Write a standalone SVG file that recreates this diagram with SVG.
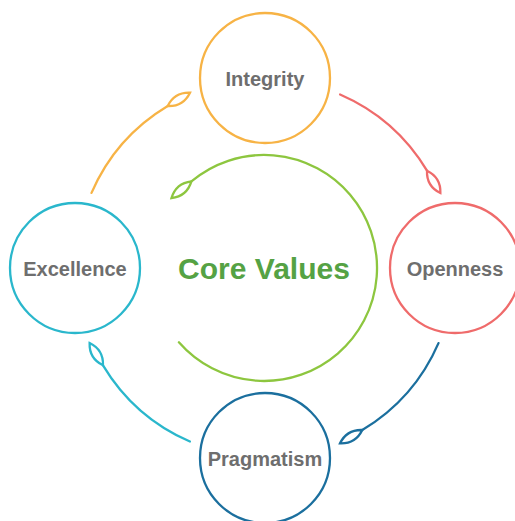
<svg xmlns="http://www.w3.org/2000/svg" width="515" height="521" viewBox="0 0 515 521">
  <style>
    .node { fill: #ffffff; stroke-width: 2.3; }
    .label { font-family: "Liberation Sans", Arial, sans-serif; font-weight: bold; font-size: 20px; fill: #6e6e6e; text-anchor: middle; }
    .title { font-family: "Liberation Sans", Arial, sans-serif; font-weight: bold; font-size: 30px; fill: #55a244; text-anchor: middle; }
    .conn { fill: none; stroke-width: 2.3; stroke-linecap: round; }
    .leaf { fill: none; stroke-width: 2.3; }
  </style>
  <defs>
    <marker id="leaf-orange" markerUnits="userSpaceOnUse" orient="auto" refX="0" refY="0" markerWidth="40" markerHeight="40" viewBox="-5 -20 40 40" overflow="visible">
      <path class="leaf" stroke="#f7b345" d="M0,0 Q13,-8.5 26,0 Q13,8.5 0,0Z"/>
    </marker>
    <marker id="leaf-red" markerUnits="userSpaceOnUse" orient="auto" refX="0" refY="0" markerWidth="40" markerHeight="40" viewBox="-5 -20 40 40" overflow="visible">
      <path class="leaf" stroke="#ef6b6b" d="M0,0 Q13,-8.5 26,0 Q13,8.5 0,0Z"/>
    </marker>
    <marker id="leaf-blue" markerUnits="userSpaceOnUse" orient="auto" refX="0" refY="0" markerWidth="40" markerHeight="40" viewBox="-5 -20 40 40" overflow="visible">
      <path class="leaf" stroke="#1b6f9e" d="M0,0 Q13,-8.5 26,0 Q13,8.5 0,0Z"/>
    </marker>
    <marker id="leaf-cyan" markerUnits="userSpaceOnUse" orient="auto" refX="0" refY="0" markerWidth="40" markerHeight="40" viewBox="-5 -20 40 40" overflow="visible">
      <path class="leaf" stroke="#2ab7cc" d="M0,0 Q13,-8.5 26,0 Q13,8.5 0,0Z"/>
    </marker>
    <marker id="leaf-green" markerUnits="userSpaceOnUse" orient="auto" refX="0" refY="0" markerWidth="40" markerHeight="40" viewBox="-5 -20 40 40" overflow="visible">
      <path class="leaf" stroke="#8dc63f" d="M0,0 Q13,-8.5 26,0 Q13,8.5 0,0Z"/>
    </marker>
  </defs>

  <g id="connectors">
    <path class="conn" stroke="#f7b345" marker-end="url(#leaf-orange)" d="M91.5,192.9 A189,189 0 0 1 167.7,106"/>
    <path class="conn" stroke="#ef6b6b" marker-end="url(#leaf-red)" d="M340.1,94.5 A189,189 0 0 1 427,170.7"/>
    <path class="conn" stroke="#1b6f9e" marker-end="url(#leaf-blue)" d="M438.5,343.1 A189,189 0 0 1 362.3,430"/>
    <path class="conn" stroke="#2ab7cc" marker-end="url(#leaf-cyan)" d="M189.9,441.5 A189,189 0 0 1 103,365.3"/>
    <path class="conn" stroke="#8dc63f" marker-end="url(#leaf-green)" d="M178.9,342.3 A113,113 0 1 0 191.4,181.4"/>
  </g>

  <g id="core-values">
    <text class="title" x="264" y="279">Core Values</text>
  </g>

  <g id="integrity">
    <circle class="node" cx="265" cy="78" r="65" stroke="#f7b345"/>
    <text class="label" x="265" y="86">Integrity</text>
  </g>

  <g id="openness">
    <circle class="node" cx="455" cy="268" r="65" stroke="#ef6b6b"/>
    <text class="label" x="455" y="276">Openness</text>
  </g>

  <g id="pragmatism">
    <circle class="node" cx="265" cy="458" r="65" stroke="#1b6f9e"/>
    <text class="label" x="265" y="466">Pragmatism</text>
  </g>

  <g id="excellence">
    <circle class="node" cx="75" cy="268" r="65" stroke="#2ab7cc"/>
    <text class="label" x="75" y="276">Excellence</text>
  </g>
</svg>
